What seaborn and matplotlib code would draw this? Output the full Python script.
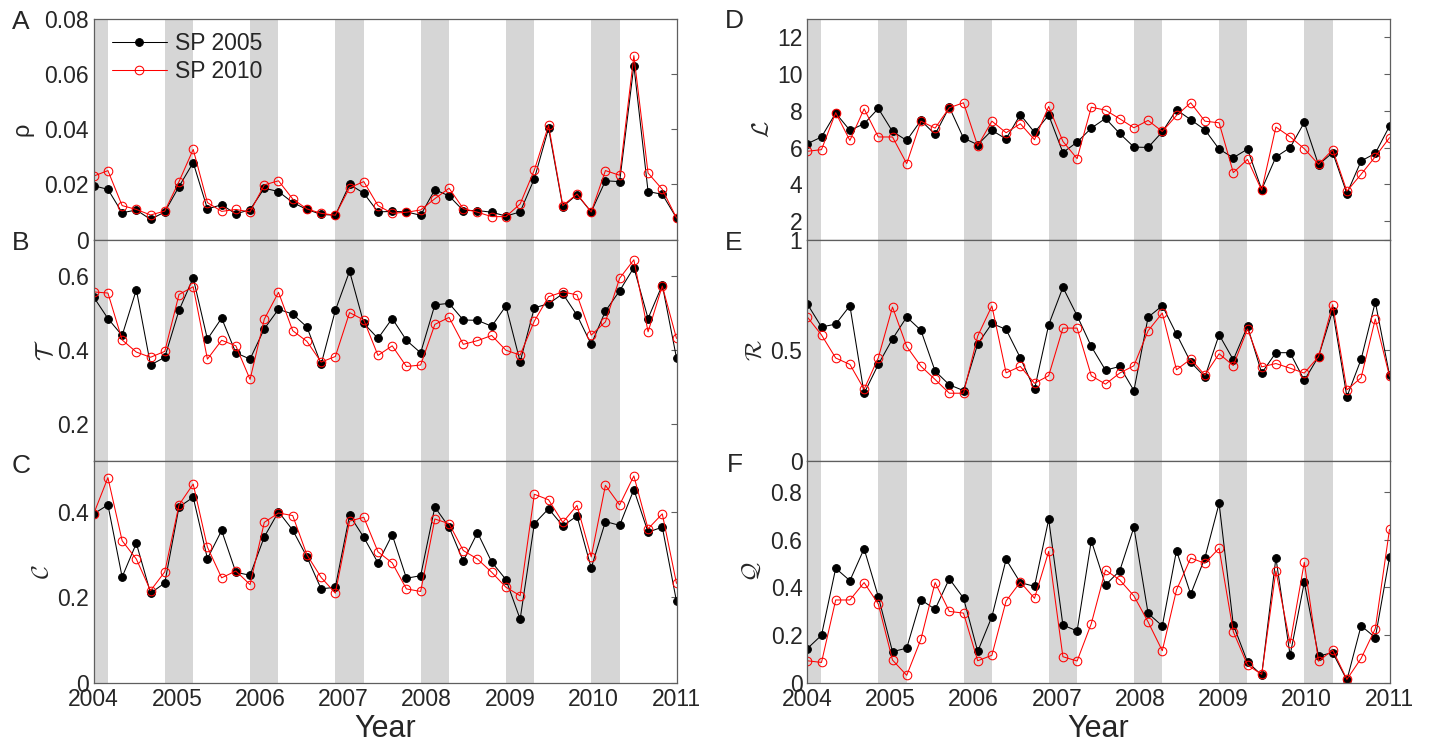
import numpy as np
import matplotlib
matplotlib.use("Agg")
import matplotlib.pyplot as plt
import seaborn as sns

# Bimonthly sampling from 2004 to 2011 (42 samples)
years = np.linspace(2004, 2011, 42)
year_ticks = [2004, 2005, 2006, 2007, 2008, 2009, 2010, 2011]
series_names = ["SP 2005", "SP 2010"]

rho_2005 = [0.0195, 0.0182, 0.0097, 0.0107, 0.0073, 0.0100, 0.0192, 0.0279, 0.0111, 0.0126,
            0.0093, 0.0108, 0.0186, 0.0174, 0.0134, 0.0109, 0.0091, 0.0088, 0.0200, 0.0168,
            0.0100, 0.0102, 0.0100, 0.0088, 0.0181, 0.0158, 0.0105, 0.0105, 0.0099, 0.0085,
            0.0100, 0.0221, 0.0403, 0.0119, 0.0163, 0.0100, 0.0213, 0.0210, 0.0631, 0.0174,
            0.0164, 0.0078]
rho_2010 = [0.0230, 0.0250, 0.0123, 0.0109, 0.0089, 0.0103, 0.0210, 0.0327, 0.0134, 0.0102,
            0.0109, 0.0100, 0.0198, 0.0213, 0.0147, 0.0111, 0.0095, 0.0088, 0.0188, 0.0210,
            0.0123, 0.0095, 0.0099, 0.0107, 0.0148, 0.0186, 0.0112, 0.0099, 0.0083, 0.0083,
            0.0129, 0.0252, 0.0414, 0.0123, 0.0165, 0.0100, 0.0250, 0.0233, 0.0667, 0.0241,
            0.0182, 0.0078]

T_2005 = [0.544, 0.486, 0.440, 0.564, 0.360, 0.381, 0.508, 0.596, 0.430, 0.487,
          0.393, 0.376, 0.458, 0.511, 0.498, 0.463, 0.362, 0.508, 0.614, 0.473,
          0.432, 0.486, 0.427, 0.393, 0.523, 0.527, 0.482, 0.481, 0.465, 0.520,
          0.369, 0.515, 0.526, 0.553, 0.495, 0.416, 0.506, 0.561, 0.624, 0.486,
          0.577, 0.379]
T_2010 = [0.558, 0.555, 0.428, 0.395, 0.381, 0.397, 0.551, 0.572, 0.376, 0.427,
          0.412, 0.321, 0.484, 0.557, 0.453, 0.424, 0.368, 0.383, 0.502, 0.482,
          0.386, 0.412, 0.356, 0.360, 0.470, 0.489, 0.416, 0.426, 0.440, 0.400,
          0.387, 0.479, 0.545, 0.558, 0.550, 0.441, 0.477, 0.595, 0.645, 0.450,
          0.574, 0.432]

C_2005 = [0.396, 0.417, 0.248, 0.327, 0.210, 0.234, 0.412, 0.435, 0.291, 0.357,
          0.259, 0.252, 0.342, 0.401, 0.358, 0.295, 0.220, 0.224, 0.393, 0.341,
          0.281, 0.347, 0.245, 0.251, 0.412, 0.365, 0.285, 0.352, 0.283, 0.242,
          0.149, 0.373, 0.408, 0.368, 0.391, 0.269, 0.378, 0.369, 0.453, 0.353,
          0.365, 0.191]
C_2010 = [0.396, 0.481, 0.333, 0.290, 0.216, 0.260, 0.417, 0.466, 0.318, 0.246,
          0.262, 0.230, 0.376, 0.398, 0.392, 0.300, 0.247, 0.210, 0.379, 0.388,
          0.307, 0.281, 0.220, 0.214, 0.384, 0.373, 0.310, 0.290, 0.259, 0.224,
          0.204, 0.442, 0.429, 0.376, 0.416, 0.295, 0.463, 0.417, 0.485, 0.361,
          0.396, 0.233]

L_2005 = [6.21, 6.58, 7.88, 6.94, 7.30, 8.13, 6.88, 6.39, 7.48, 6.72,
          8.20, 6.52, 6.16, 6.94, 6.47, 7.80, 6.83, 7.77, 5.73, 6.30,
          7.06, 7.59, 6.77, 6.03, 6.01, 6.86, 8.06, 7.52, 6.97, 5.92,
          5.45, 5.92, 3.72, 5.49, 6.00, 7.37, 5.07, 5.73, 3.50, 5.27,
          5.69, 7.17]
L_2010 = [5.80, 5.89, 7.90, 6.39, 8.11, 6.58, 6.58, 5.13, 7.44, 7.06,
          8.17, 8.44, 6.09, 7.44, 6.81, 7.30, 6.43, 8.24, 6.34, 5.40,
          8.20, 8.04, 7.57, 7.08, 7.48, 6.88, 7.75, 8.44, 7.44, 7.35,
          4.64, 5.36, 3.68, 7.12, 6.59, 5.94, 5.09, 5.89, 3.63, 4.55,
          5.51, 6.54]

R_2005 = [0.709, 0.605, 0.618, 0.701, 0.305, 0.436, 0.551, 0.650, 0.590, 0.406,
          0.344, 0.318, 0.528, 0.621, 0.594, 0.466, 0.323, 0.615, 0.784, 0.656,
          0.517, 0.410, 0.427, 0.318, 0.649, 0.701, 0.573, 0.446, 0.380, 0.570,
          0.457, 0.608, 0.397, 0.489, 0.489, 0.364, 0.471, 0.679, 0.290, 0.459,
          0.718, 0.388]
R_2010 = [0.650, 0.569, 0.465, 0.436, 0.324, 0.466, 0.695, 0.517, 0.428, 0.368,
          0.306, 0.306, 0.564, 0.700, 0.398, 0.427, 0.351, 0.385, 0.600, 0.600,
          0.385, 0.347, 0.397, 0.430, 0.588, 0.668, 0.412, 0.460, 0.388, 0.484,
          0.431, 0.596, 0.425, 0.440, 0.419, 0.397, 0.471, 0.706, 0.321, 0.376,
          0.641, 0.383]

Q_2005 = [0.143, 0.199, 0.480, 0.428, 0.562, 0.361, 0.130, 0.145, 0.348, 0.308,
          0.436, 0.355, 0.131, 0.277, 0.517, 0.420, 0.404, 0.685, 0.242, 0.217,
          0.596, 0.410, 0.469, 0.652, 0.291, 0.238, 0.554, 0.371, 0.524, 0.752,
          0.243, 0.087, 0.032, 0.524, 0.115, 0.421, 0.112, 0.126, 0.011, 0.239,
          0.189, 0.526]
Q_2010 = [0.092, 0.085, 0.347, 0.347, 0.420, 0.330, 0.095, 0.031, 0.182, 0.420,
          0.299, 0.292, 0.092, 0.115, 0.343, 0.422, 0.354, 0.551, 0.109, 0.091,
          0.248, 0.473, 0.431, 0.364, 0.255, 0.134, 0.389, 0.523, 0.501, 0.564,
          0.214, 0.074, 0.035, 0.469, 0.165, 0.505, 0.090, 0.137, 0.014, 0.102,
          0.227, 0.643]

# y ticks and their labels per panel
rho_ticks, rho_labels = [0, 0.02, 0.04, 0.06, 0.08], ["0", "0.02", "0.04", "0.06", "0.08"]
T_ticks, T_labels = [0.2, 0.4, 0.6], ["0.2", "0.4", "0.6"]
C_ticks, C_labels = [0, 0.2, 0.4], ["0", "0.2", "0.4"]
L_ticks, L_labels = [2, 4, 6, 8, 10, 12], ["2", "4", "6", "8", "10", "12"]
R_ticks, R_labels = [0, 0.5, 1], ["0", "0.5", "1"]
Q_ticks, Q_labels = [0, 0.2, 0.4, 0.6, 0.8], ["0", "0.2", "0.4", "0.6", "0.8"]

sns.set_style("white")
plt.rcParams["font.family"] = ["Liberation Sans", "DejaVu Sans"]
plt.rcParams["mathtext.fontset"] = "cm"

W, H = 1431, 742
fig = plt.figure(figsize=(W / 100, H / 100), dpi=100)

SPINE = "#5f5f5f"
BAND = "#d6d6d6"
TICK_FS = 16.5


def add_axes_px(x0, y0, x1, y1):
    return fig.add_axes([x0 / W, 1 - y1 / H, (x1 - x0) / W, (y1 - y0) / H])


# winter shading: from the November sample to the March sample of each year
band_ranges = [(0, 1)] + [(6 * k - 1, 6 * k + 1) for k in range(1, 7)]


def draw_panel(ax, y05, y10, ylim, ticks, labels, ylabel, letter, bottom,
               label_x_px, letter_xy, left_px, width_px):
    for a, b in band_ranges:
        ax.axvspan(years[a], years[b], color=BAND, lw=0, zorder=0)
    sns.lineplot(x=years, y=y05, ax=ax, color="black", lw=0.75, marker="o",
                 markersize=5.6, markerfacecolor="black", markeredgecolor="black",
                 markeredgewidth=0.7, label=series_names[0], legend=False, zorder=3)
    sns.lineplot(x=years, y=y10, ax=ax, color="red", lw=0.75, marker="o",
                 markersize=6.2, markerfacecolor="none", markeredgecolor="red",
                 markeredgewidth=0.75, label=series_names[1], legend=False, zorder=4)
    ax.set_xlim(2004, 2011)
    ax.set_ylim(*ylim)
    ax.set_yticks(ticks)
    ax.set_yticklabels(labels)
    ax.tick_params(axis="y", left=False, right=True, labelleft=True, labelright=False,
                   direction="in", length=4, width=0.8, color=SPINE, pad=3.5,
                   labelsize=TICK_FS)
    ax.set_xticks(year_ticks)
    if bottom:
        ax.set_xticklabels([str(y) for y in year_ticks])
    else:
        ax.set_xticklabels([])
    ax.tick_params(axis="x", length=0, pad=4, labelsize=TICK_FS)
    for s in ax.spines.values():
        s.set_color(SPINE)
        s.set_linewidth(0.9)
        s.set_zorder(5)
    ax.set_xlabel("")
    ax.set_ylabel(ylabel, fontsize=17, rotation=90)
    ax.yaxis.label.set_va("center")
    ax.yaxis.label.set_ha("center")
    ax.yaxis.set_label_coords((label_x_px - left_px) / width_px, 0.5)
    fig.text(letter_xy[0] / W, 1 - letter_xy[1] / H, letter, fontsize=19,
             ha="left", va="baseline")


LX0, LX1 = 93.7, 676.5
RX0, RX1 = 807.3, 1389.5
rows = [(19, 239.5), (239.5, 461), (461, 682.7)]

axA = add_axes_px(LX0, rows[0][0], LX1, rows[0][1])
axB = add_axes_px(LX0, rows[1][0], LX1, rows[1][1])
axC = add_axes_px(LX0, rows[2][0], LX1, rows[2][1])
axD = add_axes_px(RX0, rows[0][0], RX1, rows[0][1])
axE = add_axes_px(RX0, rows[1][0], RX1, rows[1][1])
axF = add_axes_px(RX0, rows[2][0], RX1, rows[2][1])

lw_px = LX1 - LX0
rw_px = RX1 - RX0
draw_panel(axA, rho_2005, rho_2010, (0, 0.08), rho_ticks, rho_labels, "ρ", "A", False,
           22, (12, 29), LX0, lw_px)
draw_panel(axB, T_2005, T_2010, (0.1, 0.7), T_ticks, T_labels, r"$\mathcal{T}$", "B", False,
           45, (12, 250), LX0, lw_px)
draw_panel(axC, C_2005, C_2010, (0, 0.52), C_ticks, C_labels, r"$\mathcal{C}$", "C", True,
           42, (12, 473), LX0, lw_px)
draw_panel(axD, L_2005, L_2010, (1, 13), L_ticks, L_labels, r"$\mathcal{L}$", "D", False,
           762, (725, 28), RX0, rw_px)
draw_panel(axE, R_2005, R_2010, (0, 1), R_ticks, R_labels, r"$\mathcal{R}$", "E", False,
           755, (725, 250), RX0, rw_px)
draw_panel(axF, Q_2005, Q_2010, (0, 0.93), Q_ticks, Q_labels, r"$\mathcal{Q}$", "F", True,
           752, (727, 472), RX0, rw_px)

handles, labs = axA.get_legend_handles_labels()
axA.legend(handles, labs, loc="upper left", bbox_to_anchor=(0.031, 0.94),
           frameon=False, fontsize=16.5, handlelength=2.4, handletextpad=0.35,
           labelspacing=0.2, borderpad=0, borderaxespad=0)

fig.text((LX0 + LX1) / 2 / W, 1 - 737 / H, "Year", fontsize=22, ha="center", va="baseline")
fig.text((RX0 + RX1) / 2 / W, 1 - 737 / H, "Year", fontsize=22, ha="center", va="baseline")

fig.savefig("out.png", dpi=100)
